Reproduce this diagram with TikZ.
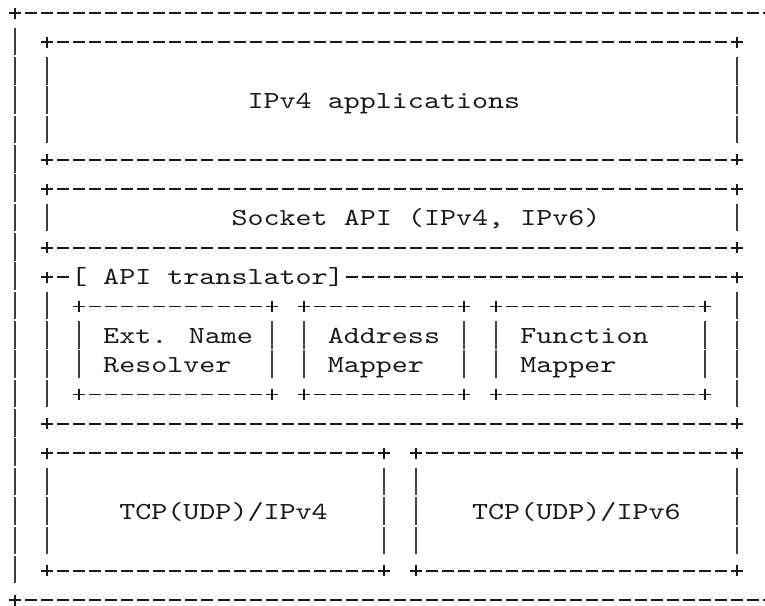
\documentclass[tikz,border=0pt]{standalone}
\usepackage{fontspec}
% typewriter face, widened so that one character cell is 16.04pt
\newfontfamily\asciifont{lmmono10-regular.otf}[FakeStretch=1.247]

% character grid: column width, row height, centre of cell (0,0)
\def\colw{16.04}
\def\rowh{29.35}
\def\xo{15}
\def\yo{13}

\tikzset{
  boxline/.style={line width=1.8pt, draw=black!90},
  hdashes/.style={boxline, dash pattern=on 12pt off 4.04pt},
  vbars/.style={boxline, draw=black!75, dash pattern=on 27.6pt off 1.75pt},
  lbl/.style={inner sep=0pt, outer sep=0pt, anchor=base west, text=black!90,
    font=\asciifont\fontsize{24.5pt}{29.35pt}\selectfont},
}

% run of "-" characters on row #1, columns #2..#3
\newcommand\hrun[3]{\draw[hdashes] ({\xo+\colw*(#2)-6},{\yo+\rowh*(#1)}) -- ({\xo+\colw*(#3)+6},{\yo+\rowh*(#1)});}
% run of "|" characters in column #1, rows #2..#3
\newcommand\vrun[3]{\draw[vbars] ({\xo+\colw*(#1)},{\yo+\rowh*(#2)-14.8}) -- ({\xo+\colw*(#1)},{\yo+\rowh*(#3)+12.8});}
% a "+" at column #1, row #2
\newcommand\corner[2]{\draw[boxline] ({\xo+\colw*(#1)-6},{\yo+\rowh*(#2)}) -- ++(12,0)
  ({\xo+\colw*(#1)},{\yo+\rowh*(#2)-5.5}) -- ++(0,11);}
% frame without its top run: name, c1, r1, c2, r2
\newcommand\asciisides[5]{%
  \coordinate (#1-nw) at ({\xo+\colw*(#2)},{\yo+\rowh*(#3)});
  \coordinate (#1-se) at ({\xo+\colw*(#4)},{\yo+\rowh*(#5)});
  \corner{#2}{#3}\corner{#4}{#3}\corner{#2}{#5}\corner{#4}{#5}
  \hrun{#5}{#2+1}{#4-1}
  \vrun{#2}{#3+1}{#5-1}
  \vrun{#4}{#3+1}{#5-1}}
% full frame
\newcommand\asciibox[5]{\asciisides{#1}{#2}{#3}{#4}{#5}\hrun{#3}{#2+1}{#4-1}}
% text starting at column #2 on row #3
\newcommand\gridtext[4]{\node[lbl] (#1) at ({\xo+\colw*(#2)-\colw/2},{\yo+\rowh*(#3)+7.3}) {#4};}

\begin{document}
\begin{tikzpicture}[x=1pt, y=-1pt]
\fill[white] (0,0) rectangle (765,605);
\useasboundingbox (0,0) rectangle (765,605);

% host
\asciibox{host}{0}{0}{47}{20}

% applications
\asciibox{apps}{2}{1}{45}{5}
\gridtext{appstext}{15}{3}{IPv4 applications}

% socket layer
\asciibox{socket}{2}{6}{45}{8}
\gridtext{sockettext}{14}{7}{Socket API (IPv4, IPv6)}

% API translator with its title in the top edge
\asciisides{apitr}{2}{9}{45}{14}
\hrun{9}{3}{3}
\gridtext{apitrtext}{4}{9}{[ API translator]}
\hrun{9}{21}{44}

\asciibox{resolver}{4}{10}{16}{13}
\gridtext{resolvertext1}{6}{11}{Ext. Name}
\gridtext{resolvertext2}{6}{12}{Resolver}

\asciibox{addrmap}{18}{10}{28}{13}
\gridtext{addrmaptext1}{20}{11}{Address}
\gridtext{addrmaptext2}{20}{12}{Mapper}

\asciibox{funcmap}{30}{10}{43}{13}
\gridtext{funcmaptext1}{32}{11}{Function}
\gridtext{funcmaptext2}{32}{12}{Mapper}

% transport stacks
\asciibox{tcp4}{2}{15}{23}{19}
\gridtext{tcp4text}{7}{17}{TCP(UDP)/IPv4}

\asciibox{tcp6}{25}{15}{45}{19}
\gridtext{tcp6text}{29}{17}{TCP(UDP)/IPv6}
\end{tikzpicture}
\end{document}
